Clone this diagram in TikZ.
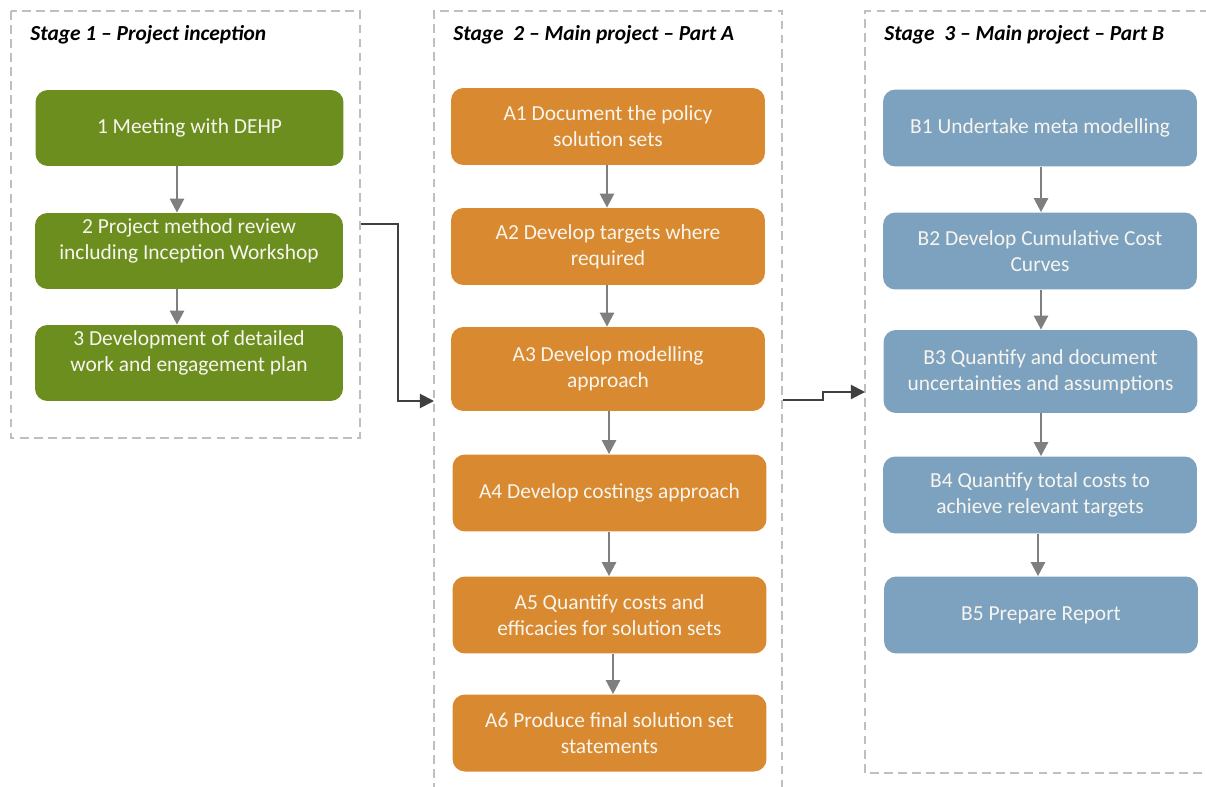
\documentclass[tikz,border=0pt]{standalone}
\usepackage{fontspec}
\setmainfont{Carlito}
\usetikzlibrary{arrows.meta,calc}
\definecolor{grn}{HTML}{6B8E1E}
\definecolor{org}{HTML}{D98930}
\definecolor{blu}{HTML}{7DA2BF}
\definecolor{frame}{HTML}{BFBFBF}
\definecolor{arr}{HTML}{7F7F7F}
\definecolor{conn}{HTML}{404040}
\definecolor{txt}{HTML}{F7F5EE}
\tikzset{
  stagebox/.style={draw=frame, line width=1.1pt, dash pattern=on 5pt off 3pt},
  procbox/.style={rounded corners=7pt, text=txt, align=center, inner sep=2pt,
    font=\fontsize{12.2}{14.8}\selectfont},
  gbox/.style={procbox, fill=grn, minimum width=6.16cm, minimum height=1.52cm},
  obox/.style={procbox, fill=org, minimum width=6.28cm, minimum height=1.54cm},
  bbox/.style={procbox, fill=blu, minimum width=6.28cm, minimum height=1.54cm},
  flow/.style={draw=arr, line width=1.4pt, -{Triangle[width=8pt,length=8pt]}},
  link/.style={draw=conn, line width=1.1pt, -{Triangle[width=8pt,length=8pt]}},
  stitle/.style={anchor=base west, inner sep=0pt, font=\fontsize{12.2}{14}\selectfont\bfseries\itshape}
}
\begin{document}
\begin{tikzpicture}[x=0.02cm,y=-0.02cm]
\useasboundingbox (0,0) rectangle (1206,787);
\begin{scope}
\clip (0,0) rectangle (1206,787);
% stage frames
\draw[stagebox] (11,11) rectangle (360,438);
\draw[stagebox] (434,820) -- (434,11) -- (782,11) -- (782,820);
\draw[stagebox] (1230,773) -- (865,773) -- (865,11) -- (1230,11);
\end{scope}
\node[stitle] (t1) at (30,41) {Stage 1 – Project inception};
\node[stitle] (t2) at (453,41) {Stage\ \ 2 – Main project – Part A};
\node[stitle] (t3) at (884,41) {Stage\ \ 3 – Main project – Part B};
% stage 1
\node[gbox] (n1) at (189.5,128) {1 Meeting with DEHP};
\node[gbox, text depth=0.48cm] (n2) at (189,251) {2 Project method review\\including Inception Workshop};
\node[gbox, text depth=0.48cm] (n3) at (189,363) {3 Development of detailed\\work and engagement plan};
% stage 2
\node[obox] (a1) at (608,126.5) {A1 Document the policy\\solution sets};
\node[obox] (a2) at (608,246.5) {A2 Develop targets where\\required};
\node[obox, minimum height=1.68cm] (a3) at (608,369) {A3 Develop modelling\\approach};
\node[obox] (a4) at (609.5,493) {A4 Develop costings approach};
\node[obox] (a5) at (609.5,615) {A5 Quantify costs and\\efficacies for solution sets};
\node[obox] (a6) at (609.5,733) {A6 Produce final solution set\\statements};
% stage 3
\node[bbox] (b1) at (1040,128) {B1 Undertake meta modelling};
\node[bbox] (b2) at (1040,251) {B2 Develop Cumulative Cost\\Curves};
\node[bbox, minimum height=1.66cm] (b3) at (1040.5,371.5) {B3 Quantify and document\\uncertainties and assumptions};
\node[bbox] (b4) at (1040,495) {B4 Quantify total costs to\\achieve relevant targets};
\node[bbox] (b5) at (1041,615) {B5 Prepare Report};
% flow arrows
\coordinate (x1) at (177,0);
\draw[flow] (n1.south -| x1) -- (n2.north -| x1);
\draw[flow] (n2.south -| x1) -- (n3.north -| x1);
\coordinate (x2) at (607,0);
\coordinate (x3) at (609,0);
\coordinate (x4) at (613,0);
\draw[flow] (a1.south -| x2) -- (a2.north -| x2);
\draw[flow] (a2.south -| x2) -- (a3.north -| x2);
\draw[flow] (a3.south -| x3) -- (a4.north -| x3);
\draw[flow] (a4.south -| x3) -- (a5.north -| x3);
\draw[flow] (a5.south -| x4) -- (a6.north -| x4);
\coordinate (x5) at (1041,0);
\coordinate (x6) at (1038,0);
\draw[flow] (b1.south -| x5) -- (b2.north -| x5);
\draw[flow] (b2.south -| x5) -- (b3.north -| x5);
\draw[flow] (b3.south -| x5) -- (b4.north -| x5);
\draw[flow] (b4.south -| x6) -- (b5.north -| x6);
% stage links
\coordinate (s1out) at (361,224);
\coordinate (s2in) at (434,401);
\coordinate (s2out) at (783,400);
\coordinate (s3in) at (865,392);
\draw[link] (s1out) -- (398,224) -- (398,401) -- (s2in);
\draw[link] (s2out) -- (823,400) -- (823,392) -- (s3in);
\end{tikzpicture}
\end{document}
